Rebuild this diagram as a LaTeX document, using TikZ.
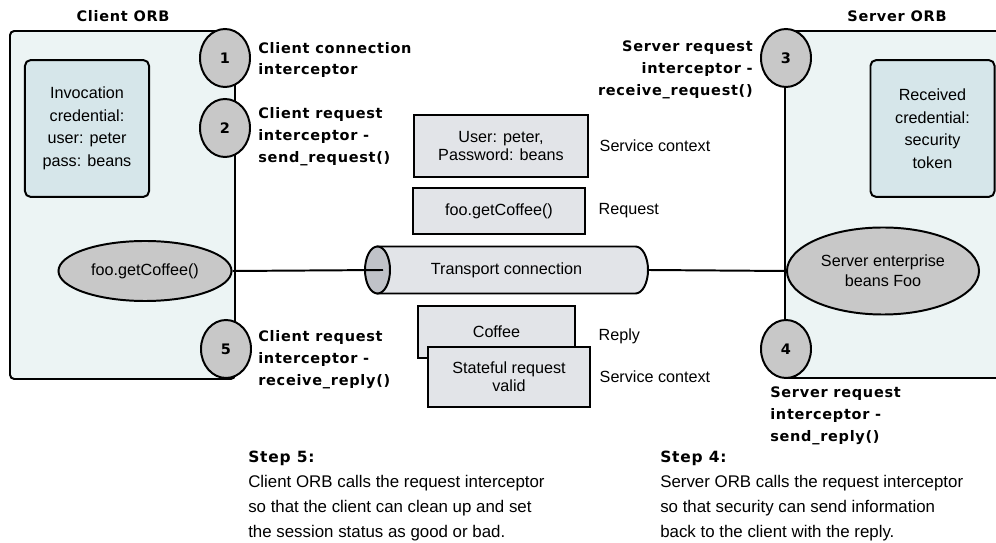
\documentclass[tikz,border=0pt]{standalone}
\usepackage{fontspec}
\setmainfont{Liberation Sans}
\newfontfamily\lblfont{DejaVu Sans}[LetterSpace=5]
\usetikzlibrary{shapes.geometric}
\usetikzlibrary{positioning}

\definecolor{orbfill}{RGB}{236,244,244}
\definecolor{credfill}{RGB}{214,230,234}
\definecolor{numfill}{RGB}{200,200,200}
\definecolor{msgfill}{RGB}{226,228,232}
\definecolor{facefill}{RGB}{192,194,200}

\tikzset{
  orb/.style={draw, line width=1.4pt, fill=orbfill, rounded corners=3pt},
  cred/.style={draw, line width=1.4pt, fill=credfill, rounded corners=4pt,
    minimum width=3.1cm, minimum height=3.42cm, align=center,
    font=\fontsize{11.5}{16}\selectfont},
  num/.style={ellipse, draw, line width=1.4pt, fill=numfill,
    minimum width=1.25cm, minimum height=1.45cm,
    font=\fontsize{10.3}{12}\lblfont\bfseries},
  obj/.style={ellipse, draw, line width=1.4pt, fill=numfill, align=center,
    inner sep=0pt, font=\fontsize{11.5}{14}\selectfont},
  msg/.style={draw, line width=2pt, fill=msgfill, align=center,
    font=\fontsize{11.5}{13}\selectfont},
  lbl/.style={inner sep=0pt, font=\fontsize{10.3}{15.6}\lblfont\bfseries},
  note/.style={inner sep=0pt, font=\fontsize{11.5}{14}\selectfont},
  steptext/.style={inner sep=0pt, anchor=west, align=left,
    font=\fontsize{12}{17.8}\selectfont},
  cyl/.style={line width=1.4pt},
}

\begin{document}
\begin{tikzpicture}[x=0.025cm, y=-0.025cm]
  \useasboundingbox (0,0) rectangle (996,543);
  \clip (0,0) rectangle (996,543);

  % the two ORBs
  \draw[orb] (10,31) rectangle (235,379);
  \draw[orb] (785,31) rectangle (1020,378);
  \node[lbl] (clientorb) at (123,16) {Client ORB};
  \node[lbl] (serverorb) at (897,16) {Server ORB};

  \node[cred] (invcred) at (87,128.5) {Invocation\\credential:\\user: peter\\pass: beans};
  \node[cred] (reccred) at (932.5,128.5) {Received\\credential:\\security\\token};

  % objects and the transport between them
  \node[obj, minimum width=4.325cm, minimum height=1.5cm] (foo) at (145,271) {foo.getCoffee()};
  \node[obj, minimum width=4.8cm, minimum height=2.175cm] (bean) at (883,271) {Server enterprise\\beans Foo};

  \filldraw[cyl, fill=msgfill] (377.5,246.5) -- (635.5,246.5)
    arc[start angle=90, end angle=-90, x radius=0.3125cm, y radius=0.5875cm]
    -- (377.5,293.5) -- cycle;
  \filldraw[cyl, fill=facefill] (377.5,270) ellipse [x radius=0.3125cm, y radius=0.5875cm];
  \node[minimum width=7.075cm, minimum height=1.175cm, inner sep=0pt,
    font=\fontsize{11.5}{14}\selectfont] (transport) at (506.5,270) {Transport connection};
  \coordinate (tface) at (383,270);
  \draw[cyl] (foo.east) -- (tface);
  \draw[cyl] (transport.east) -- (bean.west);

  % interception points
  \node[num] (n1) at (225,58) {1};
  \node[num] (n2) at (225,128) {2};
  \node[num] (n5) at (226,349) {5};
  \node[num] (n3) at (786,58) {3};
  \node[num] (n4) at (786,349) {4};

  \node[lbl, anchor=west, align=left] (l1) at (258,60) {Client connection\\interceptor};
  \node[lbl, anchor=west, align=left] (l2) at (258,137) {Client request\\interceptor -\\send\_request()};
  \node[lbl, anchor=west, align=left] (l5) at (258,360) {Client request\\interceptor -\\receive\_reply()};
  \node[lbl, anchor=east, align=right] (l3) at (753,70) {Server request\\interceptor -\\receive\_request()};
  \node[lbl, anchor=west, align=left] (l4) at (770,416) {Server request\\interceptor -\\send\_reply()};

  % messages
  \node[msg, minimum width=4.35cm, minimum height=1.55cm] (ctx) at (501,146) {User: peter,\\Password: beans};
  \node[msg, minimum width=4.3cm, minimum height=1.15cm] (req) at (499,211) {foo.getCoffee()};
  \node[msg, minimum width=3.925cm, minimum height=1.3cm] (coffee) at (496.5,332) {Coffee};
  \node[msg, minimum width=4.05cm, minimum height=1.5cm] (state) at (509,377) {Stateful request\\valid};

  \node[note, right=0.25cm of ctx] (ctxnote) {Service context};
  \node[note, right=0.3cm of req] (reqnote) {Request};
  \node[note, right=0.55cm of coffee, yshift=-0.1cm] (replynote) {Reply};
  \node[note, right=0.2cm of state] (statenote) {Service context};

  % steps
  \node[steptext] (step5) at (248,496) {{\fontsize{11}{17.8}\lblfont\bfseries Step 5:}\\Client ORB calls the request interceptor\\so that the client can clean up and set\\the session status as good or bad.};
  \node[steptext] (step4) at (660,496) {{\fontsize{11}{17.8}\lblfont\bfseries Step 4:}\\Server ORB calls the request interceptor\\so that security can send information\\back to the client with the reply.};
\end{tikzpicture}
\end{document}
